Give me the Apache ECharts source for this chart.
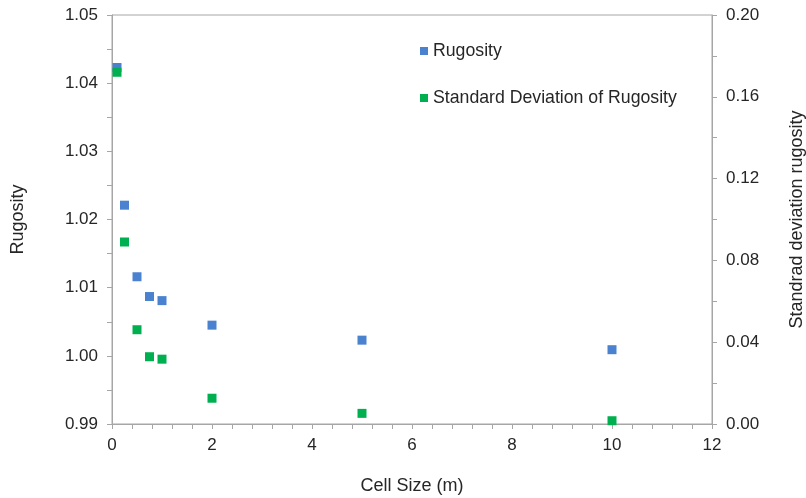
<!DOCTYPE html>
<html>
<head>
<meta charset="utf-8">
<script src="https://cdn.jsdelivr.net/npm/echarts@6/dist/echarts.min.js"></script>
<style>
  html, body { margin: 0; padding: 0; background: #fff; }
  #chart { width: 806px; height: 498px; }
</style>
</head>
<body>
<div id="chart"></div>
<script>
// Cell sizes (m) shared by both series
const cellSizes = [0.1, 0.25, 0.5, 0.75, 1, 2, 5, 10];
// Mean rugosity per cell size (left axis)
const rugosity = [1.0423, 1.0221, 1.0116, 1.0087, 1.0081, 1.0045, 1.0023, 1.0009];
// Standard deviation of rugosity per cell size (right axis)
const rugosityStd = [0.172, 0.089, 0.0461, 0.0329, 0.0317, 0.0126, 0.0052, 0.0016];

const axisGray = '#a6a6a6';
const textColor = '#262626';
const font = 'Liberation Sans, Arial, sans-serif';

const pairs = (xs, ys) => xs.map((x, i) => [x, ys[i]]);

const chart = echarts.init(document.getElementById('chart'), null, { renderer: 'canvas' });

const tickStyle = { show: true, length: 5, lineStyle: { color: axisGray } };
const titleStyle = { fontSize: 18, color: textColor, fontFamily: font };
const labelStyle = { fontSize: 17, color: textColor, fontFamily: font };

chart.setOption({
  animation: false,
  backgroundColor: '#fff',
  textStyle: { fontFamily: font, color: textColor },
  grid: {
    left: 112, right: 94, top: 15, bottom: 74,
    outerBoundsMode: 'none',
    containLabel: false,
    show: true, borderColor: axisGray, borderWidth: 1, backgroundColor: 'transparent'
  },
  legend: {
    orient: 'vertical',
    left: 415, top: 37,
    itemGap: 29,
    itemWidth: 8, itemHeight: 8,
    icon: 'rect',
    textStyle: { fontFamily: font, fontSize: 17.7, color: textColor },
    data: ['Rugosity', 'Standard Deviation of Rugosity']
  },
  xAxis: {
    type: 'value',
    min: 0, max: 12, interval: 2,
    name: 'Cell Size (m)',
    nameLocation: 'middle',
    nameGap: 53,
    nameTextStyle: titleStyle,
    axisLine: { show: true, lineStyle: { color: axisGray } },
    axisTick: tickStyle,
    minorTick: { show: true, splitNumber: 5, length: 5, lineStyle: { color: axisGray } },
    splitLine: { show: false },
    axisLabel: Object.assign({ margin: 13 }, labelStyle)
  },
  yAxis: [
    {
      type: 'value',
      min: 0.99, max: 1.05, interval: 0.01,
      name: 'Rugosity',
      nameLocation: 'middle',
      nameGap: 85,
      nameTextStyle: titleStyle,
      axisLine: { show: true, lineStyle: { color: axisGray } },
      axisTick: tickStyle,
      minorTick: { show: true, splitNumber: 2, length: 5, lineStyle: { color: axisGray } },
      splitLine: { show: false },
      axisLabel: Object.assign({ margin: 14, formatter: v => v.toFixed(2) }, labelStyle)
    },
    {
      type: 'value',
      position: 'right',
      min: 0, max: 0.2, interval: 0.04,
      name: 'Standrad deviation rugosity',
      nameLocation: 'middle',
      nameGap: 76,
      nameRotate: 90,
      nameTextStyle: titleStyle,
      axisLine: { show: true, lineStyle: { color: axisGray } },
      axisTick: tickStyle,
      minorTick: { show: true, splitNumber: 2, length: 5, lineStyle: { color: axisGray } },
      splitLine: { show: false },
      axisLabel: Object.assign({ margin: 14, formatter: v => v.toFixed(2) }, labelStyle)
    }
  ],
  series: [
    {
      name: 'Rugosity',
      type: 'scatter',
      yAxisIndex: 0,
      symbol: 'rect',
      symbolSize: 9,
      itemStyle: { color: '#4a82d0', opacity: 1 },
      data: pairs(cellSizes, rugosity),
      z: 2
    },
    {
      name: 'Standard Deviation of Rugosity',
      type: 'scatter',
      yAxisIndex: 1,
      symbol: 'rect',
      symbolSize: 9,
      itemStyle: { color: '#00b050', opacity: 1 },
      data: pairs(cellSizes, rugosityStd),
      z: 3
    }
  ]
});
</script>
</body>
</html>
